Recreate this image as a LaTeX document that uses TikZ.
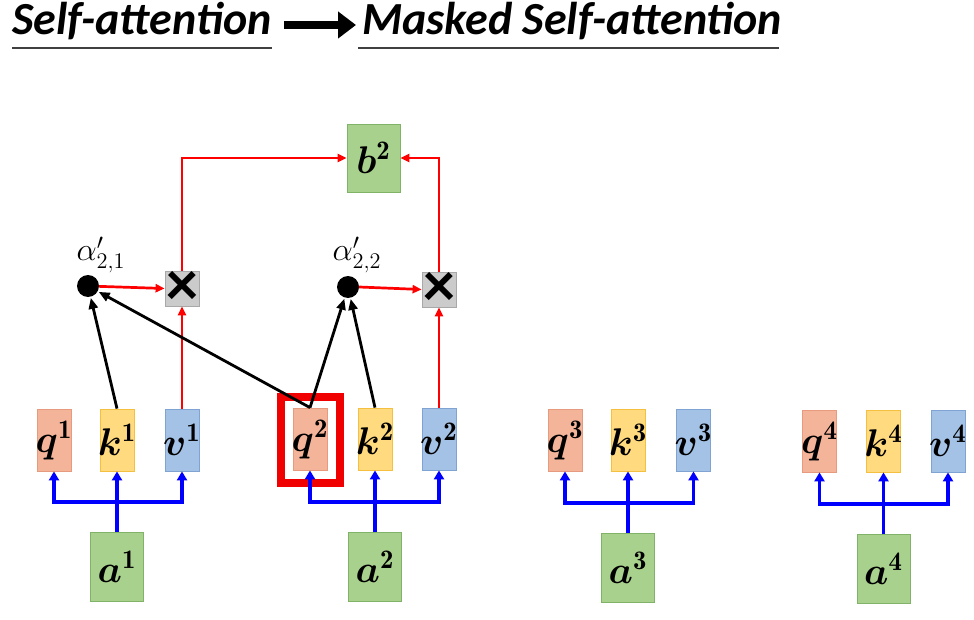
\RequirePackage{fix-cm}
\documentclass[tikz,border=0pt]{standalone}
\usepackage{amsmath,bm,graphicx}
\usepackage{fontspec}
\newfontfamily\titlefont{Carlito}
\usetikzlibrary{arrows.meta}
\newcommand{\vecl}[2]{\makebox[0pt]{\scalebox{1.86}{$\bm{#1}^{\mathbf{#2}}$}}}
\newcommand{\alab}[1]{\scalebox{1.55}{$\alpha'_{#1}$}}
\definecolor{qfill}{HTML}{F4B49A}
\definecolor{qdraw}{HTML}{E89A7E}
\definecolor{kfill}{HTML}{FFDA7E}
\definecolor{kdraw}{HTML}{F5C040}
\definecolor{vfill}{HTML}{A4C2E6}
\definecolor{vdraw}{HTML}{7FA4D4}
\definecolor{gfill}{HTML}{A9D18E}
\definecolor{gdraw}{HTML}{80B368}
\definecolor{xfill}{HTML}{CBCBCB}
\definecolor{xdraw}{HTML}{A8A8A8}
\definecolor{ulcol}{HTML}{404040}
\definecolor{hlred}{HTML}{F00000}
\begin{document}
\begin{tikzpicture}[x=1pt,y=-1pt,
  box/.style={draw, line width=0.8pt, minimum width=34pt, minimum height=62pt, inner sep=0pt,
    font=\fontsize{20.74}{24}\selectfont},
  qbox/.style={box, fill=qfill, draw=qdraw},
  kbox/.style={box, fill=kfill, draw=kdraw},
  vbox/.style={box, fill=vfill, draw=vdraw},
  gbox/.style={box, fill=gfill, draw=gdraw, minimum width=53pt, minimum height=69pt},
  xbox/.style={draw=xdraw, fill=xfill, line width=0.8pt, minimum width=34pt, minimum height=35pt,
    inner sep=0pt, font=\titlefont\bfseries\fontsize{64}{64}\selectfont},
  dotn/.style={circle, fill=black, minimum size=22pt, inner sep=0pt},
  alabel/.style={inner sep=0pt, font=\fontsize{20.74}{24}\selectfont},
  title/.style={inner sep=0pt, anchor=base west, font=\titlefont\bfseries\itshape\fontsize{46}{50}\selectfont},
  ul/.style={draw=ulcol, line width=1.6pt},
  bigarrow/.style={line width=8pt, -{Triangle[length=18pt,width=26pt]}},
  bluearrow/.style={draw=blue, line width=3.6pt, -{Triangle[length=9pt,width=10pt]}},
  redarrow/.style={draw=red, line width=2.7pt, -{Triangle[length=9pt,width=8pt]}},
  blackarrow/.style={draw=black, line width=2.8pt, -{Triangle[length=11pt,width=9pt]}, shorten >=1pt},
  hl/.style={draw=hlred, line width=8pt, minimum width=59pt, minimum height=86pt, inner sep=0pt}
]
\useasboundingbox[fill=white] (0,0) rectangle (974,620);

% title
\node[title] (t1) at (12,35) {Self-attention};
\node[title] (t2) at (362,35) {Masked Self-attention};
\coordinate (u1a) at (12,48); \coordinate (u1b) at (272,48);
\coordinate (u2a) at (358,48); \coordinate (u2b) at (779,48);
\draw[ul] (u1a) -- (u1b);
\draw[ul] (u2a) -- (u2b);
\coordinate (as) at (284,25); \coordinate (ae) at (356,25);
\draw[bigarrow] (as) -- (ae);

% highlight
\node[hl] (hl) at (310.5,440) {};

% q k v boxes
\node[qbox] (q1) at (54,440) {\vecl{q}{1}};
\node[kbox] (k1) at (117,440) {\vecl{k}{1}};
\node[vbox] (v1) at (182,440) {\vecl{v}{1}};
\node[qbox] (q2) at (310,439) {\vecl{q}{2}};
\node[kbox] (k2) at (375,439) {\vecl{k}{2}};
\node[vbox] (v2) at (439,439) {\vecl{v}{2}};
\node[qbox] (q3) at (565,440) {\vecl{q}{3}};
\node[kbox] (k3) at (628,440) {\vecl{k}{3}};
\node[vbox] (v3) at (693.5,440) {\vecl{v}{3}};
\node[qbox] (q4) at (819.5,441) {\vecl{q}{4}};
\node[kbox] (k4) at (883.5,441) {\vecl{k}{4}};
\node[vbox] (v4) at (948,441) {\vecl{v}{4}};

% a boxes
\node[gbox] (a1) at (117,566.5) {\vecl{a}{1}};
\node[gbox] (a2) at (375,566.5) {\vecl{a}{2}};
\node[gbox] (a3) at (628,567.5) {\vecl{a}{3}};
\node[gbox] (a4) at (883.5,569) {\vecl{a}{4}};

% b2
\node[gbox, minimum height=68pt] (b2) at (373.5,158) {\vecl{b}{2}};

% multiply boxes and dots
\node[xbox] (x1) at (182,288.5) {×};
\node[xbox] (x2) at (439,289.5) {×};
\node[dotn] (d1) at (88,286) {};
\node[dotn] (d2) at (348,287) {};
\node[alabel] (l1) at (101,255) {\alab{2,1}};
\node[alabel] (l2) at (357,255) {\alab{2,2}};

% blue connectors
\foreach \i/\y in {1/502,2/502,3/503,4/504}{
  \coordinate (j\i) at (a\i.north |- 0,\y);
  \draw[bluearrow] (a\i.north) -- (k\i.south);
  \draw[bluearrow] (j\i) -| (q\i.south);
  \draw[bluearrow] (j\i) -| (v\i.south);
}

% red connectors
\draw[redarrow] (v1.north) -- (x1.south);
\draw[redarrow] (v2.north) -- (x2.south);
\draw[redarrow] (d1) -- (x1.west);
\draw[redarrow] (d2.east) -- (x2.west);
\draw[redarrow] (x1.north) |- (b2.west);
\draw[redarrow] (x2.north) |- (b2.east);

% black connectors
\draw[blackarrow] (k1.north) -- (d1);
\draw[blackarrow] (q2.north) -- (d1);
\draw[blackarrow] (q2.north) -- (d2);
\draw[blackarrow] (k2.north) -- (d2);
\end{tikzpicture}
\end{document}
